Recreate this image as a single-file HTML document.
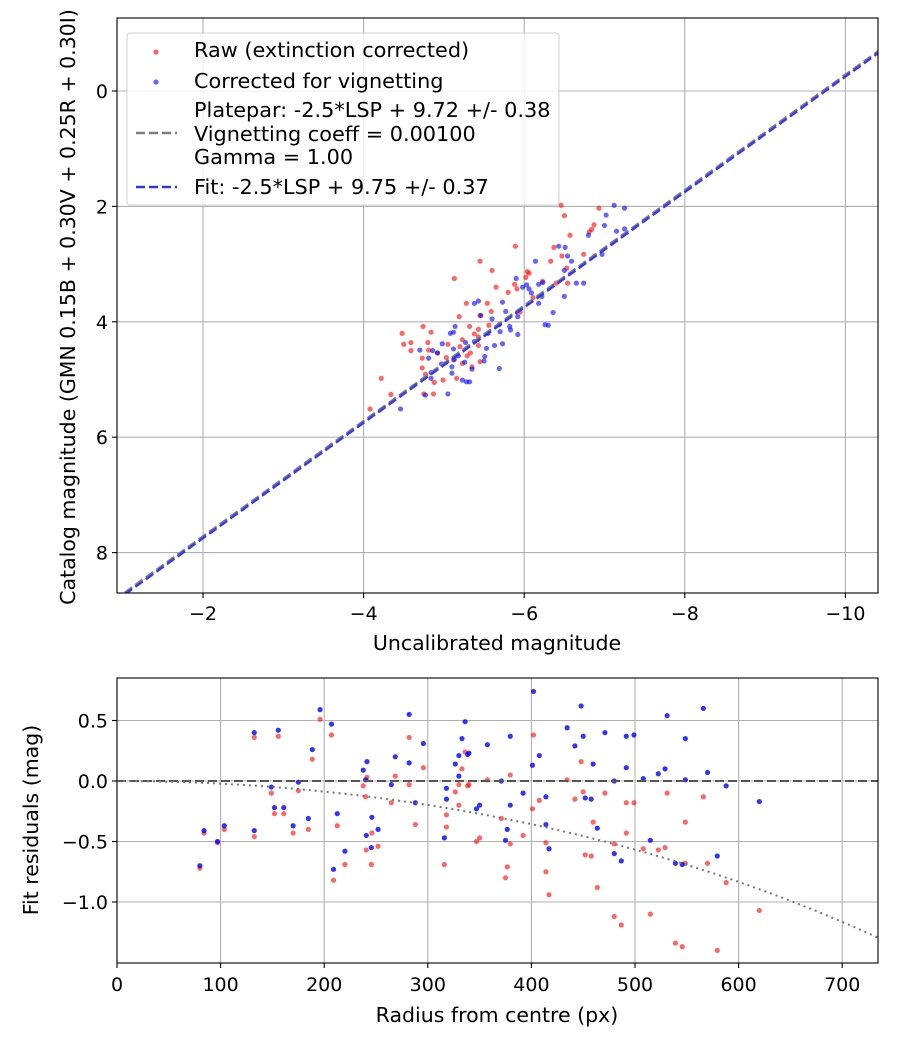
<!DOCTYPE html>
<html><head><meta charset="utf-8"><style>
body{margin:0;background:#fff;}
svg{display:block;font-family:"DejaVu Sans","Liberation Sans",sans-serif;}
</style></head><body>
<svg id="fig" width="900" height="1050" viewBox="0 0 900 1050" xmlns="http://www.w3.org/2000/svg"></svg>
<script>
// ---------- TOP CHART DATA ----------
const rawX=[-6.46,-6.50,-6.93,-6.87,-6.84,-6.81,-6.57,-6.37,-6.47,-6.33,-6.74,-6.53,-6.04,-6.06,-6.02,-5.89,-5.45,-5.60,-5.13,-5.65,-5.88,-5.91,-5.80,-5.28,-5.54,-5.59,-5.19,-5.45,-5.56,-5.95,-6.40,-6.54,-6.11,-6.23,-4.74,-4.84,-4.48,-4.50,-4.59,-4.59,-4.80,-5.05,-4.92,-4.81,-4.73,-4.73,-4.77,-4.88,-4.99,-4.87,-4.75,-4.22,-4.34,-4.08,-5.03,-5.12,-5.20,-5.32,-5.38,-5.43,-5.29,-5.35,-5.16,-5.43,-5.45,-5.23,-5.43,-5.23,-5.33];
const rawY=[1.98,2.16,2.03,2.32,2.40,2.44,2.50,2.71,2.86,2.95,2.83,3.07,3.13,3.16,3.23,2.69,2.95,3.11,3.25,3.40,3.35,3.43,3.49,3.68,3.68,3.82,3.91,3.89,4.06,3.83,3.33,3.33,3.58,3.30,4.08,4.18,4.20,4.39,4.36,4.50,4.36,4.39,4.54,4.49,4.63,4.80,4.91,5.05,5.01,5.25,5.25,4.98,5.26,5.51,4.62,4.66,4.43,4.08,4.21,4.26,4.59,4.78,4.98,4.41,4.69,4.72,4.13,4.31,4.54];
const corX=[-7.12,-7.25,-7.02,-7.00,-6.80,-7.15,-7.25,-6.97,-6.43,-6.51,-6.54,-6.59,-6.14,-6.50,-6.65,-6.74,-6.50,-6.23,-6.18,-5.90,-5.98,-6.03,-6.06,-6.09,-6.22,-6.18,-5.92,-6.36,-6.26,-6.30,-5.73,-5.43,-5.38,-5.46,-5.60,-5.77,-5.69,-5.82,-5.92,-5.83,-5.70,-5.73,-5.63,-5.53,-5.51,-5.50,-5.69,-5.35,-5.32,-5.28,-5.23,-4.98,-5.14,-5.08,-5.12,-5.18,-5.26,-4.97,-5.13,-4.86,-4.92,-4.70,-4.81,-4.84,-4.84,-5.10,-5.10,-4.77,-5.05,-4.46,-5.55,-5.38,-5.27,-5.12];
const corY=[1.98,2.03,2.15,2.33,2.50,2.43,2.39,2.83,2.69,2.71,2.86,2.95,2.95,3.11,3.33,3.33,3.56,3.32,3.35,3.25,3.40,3.36,3.43,3.50,3.56,3.68,3.91,3.84,4.05,4.06,3.66,3.64,3.68,3.89,3.95,3.82,4.05,4.08,4.22,4.14,4.17,4.38,4.41,4.46,4.60,4.68,4.81,4.82,5.04,5.04,5.01,4.38,4.08,4.20,4.47,4.59,4.70,4.73,4.65,4.50,4.54,4.49,4.63,4.88,4.98,4.89,4.78,5.27,5.25,5.51,4.20,4.34,4.36,4.18];
const fitOffset=9.75, plateOffset=9.72;
const topXTicks=[-2,-4,-6,-8,-10];
const topYTicks=[0,2,4,6,8];
// ---------- BOTTOM CHART DATA ----------
const radius=[80,84,97,103.6,132.5,132.5,149,152,155.7,161,170,175,184.7,188.5,196,207,209,212.6,220,237.7,240,241.3,240.6,246,245.5,252,264.8,268.6,282,282,288,295.7,316,318,318,326.5,330,330,333,336,338.5,339.7,347,350,357.5,371,379.6,379.6,376.7,375,392,401,402,407.6,414,414,417,434.5,442,448,450,452,457.7,459.6,463.6,471,480,480,486.8,491.6,491.6,499,508,514.8,522.5,529,531,539,545.6,548.6,548.6,566,570,579.4,588,620];
const corrRes=[-0.70,-0.41,-0.50,-0.37,0.40,-0.41,-0.05,-0.22,0.42,-0.22,-0.37,-0.01,-0.31,0.26,0.59,0.47,-0.73,-0.27,-0.58,0.09,0.01,0.16,-0.45,-0.30,-0.55,-0.40,-0.03,0.20,0.55,0.15,-0.18,0.31,-0.47,-0.06,-0.15,0.14,0.21,0.04,0.35,0.49,0.22,0.23,-0.23,-0.20,0.30,0.00,0.37,-0.20,-0.40,-0.49,-0.10,0.13,0.74,0.21,-0.13,-0.36,-0.56,0.44,0.29,0.62,0.37,-0.14,-0.15,0.14,-0.39,0.40,0.00,-0.60,-0.66,0.37,0.11,0.38,0.02,-0.49,0.06,0.10,0.54,-0.68,-0.69,0.35,0.01,0.60,0.07,-0.62,-0.04,-0.17];
const rawRes=[-0.72,-0.43,-0.51,-0.40,0.36,-0.46,-0.10,-0.27,0.37,-0.27,-0.43,-0.08,-0.40,0.18,0.51,0.38,-0.82,-0.37,-0.69,-0.04,-0.13,0.03,-0.57,-0.43,-0.69,-0.54,-0.18,0.04,0.36,-0.03,-0.36,0.11,-0.69,-0.28,-0.38,-0.09,-0.03,-0.20,0.10,0.24,-0.04,-0.03,-0.50,-0.47,0.01,-0.31,0.05,-0.52,-0.71,-0.80,-0.45,-0.23,0.38,-0.16,-0.51,-0.75,-0.94,0.01,-0.15,0.16,-0.09,-0.61,-0.62,-0.34,-0.88,-0.10,-0.52,-1.12,-1.19,-0.18,-0.43,-0.18,-0.56,-1.10,-0.57,-0.55,-0.10,-1.34,-1.37,-0.34,-0.68,-0.13,-0.68,-1.40,-0.84,-1.07];
const vignCoeff=0.001;
const botXTicks=[0,100,200,300,400,500,600,700];
const botYTicks=[0.5,0.0,-0.5,-1.0];

const NS="http://www.w3.org/2000/svg";
const svg=document.getElementById('fig');
function mk(tag,attrs,parent){const e=document.createElementNS(NS,tag);for(const k in attrs)e.setAttribute(k,attrs[k]);(parent||svg).appendChild(e);return e;}
const fmt=v=>(v<0?'\u2212':'')+Math.abs(v);
const TICK=19, LAB=20.5, LEG=20.8;

// ===== TOP =====
const T={l:117,r:878,t:18,b:593};
function txf(v){return 203+(-2-v)*80.3;}
function tyf(v){return 91+v*57.7;}
const gTop=mk('g',{});


const clipT=mk('clipPath',{id:'clipT'});mk('rect',{x:T.l,y:T.t,width:T.r-T.l,height:T.b-T.t},clipT);
topXTicks.forEach(v=>{const x=txf(v);
 const g=mk('line',{x1:x,x2:x,y1:T.t,y2:T.b,stroke:'#b0b0b0','stroke-width':1.1},gTop);
 
 mk('line',{x1:x,x2:x,y1:T.b,y2:T.b+5,stroke:'#000','stroke-width':1.1},gTop);
 const t=mk('text',{x:x,y:T.b+27,'text-anchor':'middle','font-size':TICK},gTop);t.textContent=fmt(v);
 });
topYTicks.forEach(v=>{const y=tyf(v);
 const g=mk('line',{x1:T.l,x2:T.r,y1:y,y2:y,stroke:'#b0b0b0','stroke-width':1.1},gTop);
 
 mk('line',{x1:T.l-5,x2:T.l,y1:y,y2:y,stroke:'#000','stroke-width':1.1},gTop);
 const t=mk('text',{x:T.l-9,y:y+7,'text-anchor':'end','font-size':TICK},gTop);t.textContent=fmt(v);
 });
const pT=mk('g',{'clip-path':'url(#clipT)'},gTop);
rawX.forEach((x,i)=>{const c=mk('circle',{cx:txf(x),cy:tyf(rawY[i]),r:2.6,fill:'#ff0000','fill-opacity':0.6},pT);
 });
corX.forEach((x,i)=>{const c=mk('circle',{cx:txf(x),cy:tyf(corY[i]),r:2.6,fill:'#0000ff','fill-opacity':0.6},pT);
 });
const x0=-0.5,x1=-11;
const pl=mk('line',{x1:txf(x0),y1:tyf(x0+plateOffset),x2:txf(x1),y2:tyf(x1+plateOffset),stroke:'#808080','stroke-width':2.5,'stroke-dasharray':'9,4'},pT);

const fl=mk('line',{x1:txf(x0),y1:tyf(x0+fitOffset),x2:txf(x1),y2:tyf(x1+fitOffset),stroke:'#3333ee','stroke-width':2.5,'stroke-dasharray':'9,4','stroke-opacity':0.95},pT);

mk('rect',{x:T.l,y:T.t,width:T.r-T.l,height:T.b-T.t,fill:'none',stroke:'#000','stroke-width':1.1},gTop);
const lg=mk('g',{},gTop);

mk('rect',{x:127,y:33,width:432,height:172,rx:3,fill:'#fff','fill-opacity':0.8,stroke:'#d0d0d0','stroke-width':1},lg);
mk('circle',{cx:156,cy:52,r:2.6,fill:'#ff0000','fill-opacity':0.6},lg);
mk('circle',{cx:156,cy:82,r:2.6,fill:'#0000ff','fill-opacity':0.6},lg);
mk('line',{x1:136,x2:177,y1:133,y2:133,stroke:'#808080','stroke-width':2.5,'stroke-dasharray':'9,4'},lg);
mk('line',{x1:136,x2:177,y1:187,y2:187,stroke:'#3333ee','stroke-width':2.5,'stroke-dasharray':'9,4'},lg);
[['Raw (extinction corrected)',57,'legend-raw'],['Corrected for vignetting',88,'legend-corrected'],['Platepar: -2.5*LSP + 9.72 +/- 0.38',117,'legend-platepar'],['Vignetting coeff = 0.00100',141,'legend-vignetting'],['Gamma = 1.00',164,'legend-gamma'],['Fit: -2.5*LSP + 9.75 +/- 0.37',194,'legend-fit']].forEach(a=>{
 const t=mk('text',{x:194,y:a[1],'font-size':LEG},lg);t.textContent=a[0];
 });
let t1=mk('text',{x:497,y:650,'text-anchor':'middle','font-size':LAB});t1.textContent='Uncalibrated magnitude';

let t2=mk('text',{x:0,y:0,'text-anchor':'middle','font-size':LAB,transform:'translate(75,307) rotate(-90)'});t2.textContent='Catalog magnitude (GMN 0.15B + 0.30V + 0.25R + 0.30I)';


// ===== BOTTOM =====
const B={l:117,r:878,t:678,b:963};
function bxf(v){return 117+v*1.036;}
function byf(v){return 781-v*121;}
const gB=mk('g',{});

const clipB=mk('clipPath',{id:'clipB'});mk('rect',{x:B.l,y:B.t,width:B.r-B.l,height:B.b-B.t},clipB);
botXTicks.forEach(v=>{const x=bxf(v);
 const g=mk('line',{x1:x,x2:x,y1:B.t,y2:B.b,stroke:'#b0b0b0','stroke-width':1.1},gB);
 
 mk('line',{x1:x,x2:x,y1:B.b,y2:B.b+5,stroke:'#000','stroke-width':1.1},gB);
 const t=mk('text',{x:x,y:B.b+28,'text-anchor':'middle','font-size':TICK},gB);t.textContent=v;
 });
botYTicks.forEach(v=>{const y=byf(v);
 const g=mk('line',{x1:B.l,x2:B.r,y1:y,y2:y,stroke:'#b0b0b0','stroke-width':1.1},gB);
 
 mk('line',{x1:B.l-5,x2:B.l,y1:y,y2:y,stroke:'#000','stroke-width':1.1},gB);
 const t=mk('text',{x:B.l-9,y:y+7,'text-anchor':'end','font-size':TICK},gB);t.textContent=(v<0?'\u2212':'')+Math.abs(v).toFixed(1);
 });
const pB=mk('g',{'clip-path':'url(#clipB)'},gB);
radius.forEach((r,i)=>{const c=mk('circle',{cx:bxf(r),cy:byf(rawRes[i]),r:2.6,fill:'#ff0000','fill-opacity':0.6},pB);
 });
radius.forEach((r,i)=>{const c=mk('circle',{cx:bxf(r),cy:byf(corrRes[i]),r:2.6,fill:'#0000ff','fill-opacity':0.8},pB);
 });
const zl=mk('line',{x1:B.l,x2:B.r,y1:byf(0),y2:byf(0),stroke:'#555','stroke-width':2,'stroke-dasharray':'9,4'},pB);

let d='';for(let r=0;r<=740;r+=5){const v=2.5*Math.log10(Math.pow(Math.cos(r*vignCoeff),4));d+=(r?'L':'M')+bxf(r).toFixed(1)+','+byf(v).toFixed(1);}
const vc=mk('path',{d:d,fill:'none',stroke:'#777','stroke-width':2,'stroke-dasharray':'2,4'},pB);

mk('rect',{x:B.l,y:B.t,width:B.r-B.l,height:B.b-B.t,fill:'none',stroke:'#000','stroke-width':1.1},gB);
let t3=mk('text',{x:497,y:1022,'text-anchor':'middle','font-size':LAB});t3.textContent='Radius from centre (px)';

let t4=mk('text',{x:0,y:0,'text-anchor':'middle','font-size':LAB,transform:'translate(38,820) rotate(-90)'});t4.textContent='Fit residuals (mag)';

</script>
</body></html>
